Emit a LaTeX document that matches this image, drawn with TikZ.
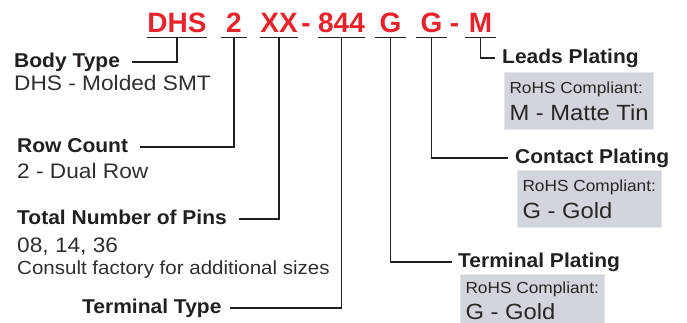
\documentclass[tikz,border=0pt]{standalone}
\usepackage{fontspec}
\setmainfont{Liberation Sans}
\newfontfamily\plainfam[FakeStretch=1.08]{Liberation Sans}
\newfontfamily\headfam[FakeStretch=1.05]{Liberation Sans}
\definecolor{codered}{RGB}{232,35,43}
\definecolor{inkline}{RGB}{35,31,32}
\definecolor{platefill}{RGB}{210,213,219}
\definecolor{plateedge}{RGB}{228,230,234}
\begin{document}
\begin{tikzpicture}[x=1pt,y=-1pt,
  rule/.style={draw=inkline,line width=1.4pt},
  codepart/.style={anchor=base,inner sep=0pt,text depth=5pt,text=codered,font=\fontsize{28}{30}\selectfont\bfseries},
  heading/.style={anchor=base west,inner sep=0pt,text height=10pt,text depth=0pt,text=inkline,font=\headfam\bfseries\fontsize{20}{22}\selectfont},
  desc/.style={anchor=base west,inner sep=0pt,text=black!82,font=\plainfam\fontsize{21}{24}\selectfont},
  platebox/.style={anchor=north west,fill=platefill,draw=plateedge,line width=1pt,align=left,inner xsep=5pt,inner ysep=9pt,text=black!85,font=\plainfam\fontsize{16}{25}\selectfont}]
\useasboundingbox (0,0) rectangle (687,322);
\clip (0,0) rectangle (687,322);
% part number, one node per field
\node[codepart,minimum width=60pt] (dhs) at (177,32) {DHS};
\node[codepart,minimum width=26pt] (two) at (234,32) {2};
\node[codepart,minimum width=38pt] (xx) at (279,32) {XX};
\node[codepart] (dasha) at (306,32) {-};
\node[codepart,minimum width=43pt] (pins844) at (341.5,32) {844};
\node[codepart,minimum width=31pt] (gt) at (390.5,32) {G};
\node[codepart,minimum width=31pt] (gc) at (431.5,32) {G};
\node[codepart] (dashb) at (454.5,32) {-};
\node[codepart,minimum width=31pt] (ml) at (480.5,32) {M};
\foreach \part in {dhs,two,xx,pins844,gt,gc,ml}
  \draw[rule] (\part.south west) -- (\part.south east);
% left column
\node[heading] (body) at (14,67) {Body Type};
\node[desc] (bodyd) at (14,90) {DHS - Molded SMT};
\node[heading] (rows) at (17,152) {Row Count};
\node[desc] (rowsd) at (17,178) {2 - Dual Row};
\node[heading] (pins) at (17,224) {Total Number of Pins};
\node[desc] (pinsd) at (17,252) {08, 14, 36};
\node[desc,font=\plainfam\fontsize{19}{22}\selectfont] (pinsn) at (17,274) {Consult factory for additional sizes};
\node[heading] (ttype) at (82,313) {Terminal Type};
% right column
\node[heading] (lead) at (502,63) {Leads Plating};
\node[platebox] (leadbox) at (504,72) {RoHS Compliant:\\[2pt]\fontsize{22}{25}\selectfont M - Matte Tin};
\node[heading] (cont) at (515,163) {Contact Plating};
\node[platebox] (contbox) at (517,170) {RoHS Compliant:\\[2pt]\fontsize{22}{25}\selectfont G - Gold};
\node[heading] (tplat) at (458,267) {Terminal Plating};
\node[platebox,inner ysep=7pt] (tplatbox) at (460,274) {RoHS Compliant:\\[1pt]\fontsize{22}{25}\selectfont G - Gold};
% leaders
\draw[rule,shorten >=12pt] (dhs.south) |- (body.east);
\draw[rule,shorten >=12pt] (two.south) |- (rows.east);
\draw[rule,shorten >=12pt] (xx.south) |- (pins.east);
\draw[rule,shorten >=8pt] (pins844.south) |- (ttype.east);
\draw[rule,shorten >=7pt] (ml.south) |- (lead.west);
\draw[rule,shorten >=7pt] (gc.south) |- (cont.west);
\draw[rule,shorten >=6pt] (gt.south) |- (tplat.west);
\end{tikzpicture}
\end{document}
